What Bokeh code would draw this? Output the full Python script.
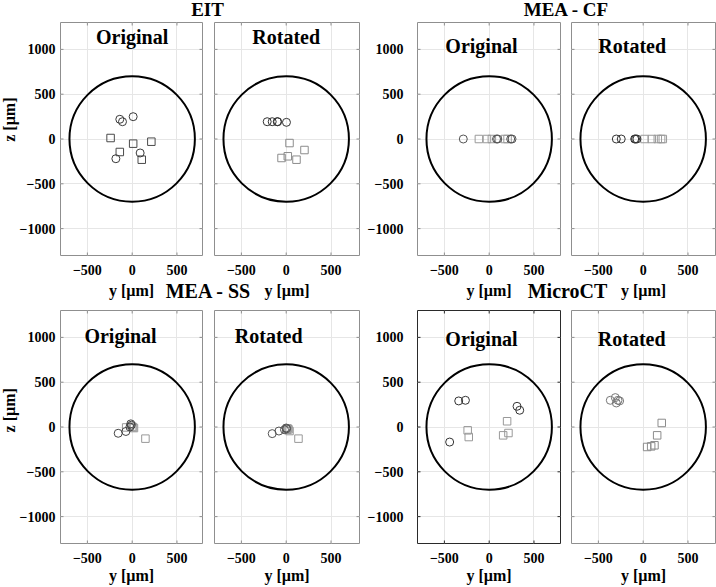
import math
from bokeh.plotting import figure
from bokeh.models import Range1d, FixedTicker, Label, Grid
from bokeh.layouts import column, row
from bokeh.embed import file_html
from bokeh.resources import INLINE

# ---------------- data ----------------
groups = ["EIT", "MEA - CF", "MEA - SS", "MicroCT"]
views = ["Original", "Rotated"]
x_ticks = [-500, 0, 500]
y_ticks = [-1000, -500, 0, 500, 1000]
nerve_radius = 700

# EIT
eit_orig_circ_y = [-138, -108, 11, 89, -182]
eit_orig_circ_z = [220, 193, 249, -156, -220]
eit_orig_sq_y = [-241, 11, 214, -138, 107]
eit_orig_sq_z = [11, -52, -30, -145, -231]
eit_rot_circ_y = [-212, -156, -100, -95, 3]
eit_rot_circ_z = [193, 193, 193, 193, 186]
eit_rot_sq_y = [37, 204, 18, -52, 115]
eit_rot_sq_z = [-45, -123, -193, -212, -231]

# MEA - CF
cf_orig_circ_y = [-289, 82, 96, 240, 255]
cf_orig_circ_z = [0, 0, 0, 0, 0]
cf_orig_sq_y = [-115, -25, 30, 175, 205]
cf_orig_sq_z = [0, 0, 0, 0, 0]
cf_rot_circ_y = [-300, -245, -95, -85, -70]
cf_rot_circ_z = [0, 0, 0, 0, 0]
cf_rot_sq_y = [15, 96, 163, 200, 219]
cf_rot_sq_z = [0, 0, 0, 0, 0]

# MEA - SS
ss_orig_circ_y = [-156, -70, -25, -15, -10]
ss_orig_circ_z = [-70, -50, 0, 35, 20]
ss_orig_sq_y = [-67, 10, 20, 0, 148]
ss_orig_sq_z = [-5, -5, -12, 5, -130]
ss_rot_circ_y = [-156, -81, -19, 0, 5]
ss_rot_circ_z = [-74, -45, -30, -11, -20]
ss_rot_sq_y = [26, 37, 15, 10, 137]
ss_rot_sq_z = [-26, -45, -15, -30, -130]

# MicroCT
ct_orig_circ_y = [-340, -265, 311, 341, -441]
ct_orig_circ_z = [291, 298, 231, 187, -168]
ct_orig_sq_y = [-240, -228, 200, 215, 156]
ct_orig_sq_z = [-37, -112, 64, -67, -93]
ct_rot_circ_y = [-367, -311, -281, -300, -263]
ct_rot_circ_z = [298, 328, 298, 268, 291]
ct_rot_sq_y = [207, 156, 126, 89, 44]
ct_rot_sq_z = [45, -93, -204, -216, -223]

panel_data = {
    ("EIT", "Original"): (eit_orig_circ_y, eit_orig_circ_z, eit_orig_sq_y, eit_orig_sq_z),
    ("EIT", "Rotated"): (eit_rot_circ_y, eit_rot_circ_z, eit_rot_sq_y, eit_rot_sq_z),
    ("MEA - CF", "Original"): (cf_orig_circ_y, cf_orig_circ_z, cf_orig_sq_y, cf_orig_sq_z),
    ("MEA - CF", "Rotated"): (cf_rot_circ_y, cf_rot_circ_z, cf_rot_sq_y, cf_rot_sq_z),
    ("MEA - SS", "Original"): (ss_orig_circ_y, ss_orig_circ_z, ss_orig_sq_y, ss_orig_sq_z),
    ("MEA - SS", "Rotated"): (ss_rot_circ_y, ss_rot_circ_z, ss_rot_sq_y, ss_rot_sq_z),
    ("MicroCT", "Original"): (ct_orig_circ_y, ct_orig_circ_z, ct_orig_sq_y, ct_orig_sq_z),
    ("MicroCT", "Rotated"): (ct_rot_circ_y, ct_rot_circ_z, ct_rot_sq_y, ct_rot_sq_z),
}

# ---------------- style ----------------
FONT = "Liberation Serif"
OUTLINE = "#8f8f8f"
GRID = "#e6e6e6"
Y_MIN, Y_MAX, X_MIN = -1300, 1300, -800

label_pos = {
    ("EIT", "Original"): (0, 1137), ("EIT", "Rotated"): (0, 1137),
    ("MEA - CF", "Original"): (-86, 1035), ("MEA - CF", "Rotated"): (-123, 1035),
    ("MEA - SS", "Original"): (-130, 1011), ("MEA - SS", "Rotated"): (-195, 1011),
    ("MicroCT", "Original"): (-86, 984), ("MicroCT", "Rotated"): (-128, 984),
}
marker_colors = {
    ("EIT", "Original"): ("#3a3a3a", "#4a4a4a"),
    ("EIT", "Rotated"): ("#333333", "#8c8c8c"),
    ("MEA - CF", "Original"): ("#555555", "#9a9a9a"),
    ("MEA - CF", "Rotated"): ("#333333", "#9a9a9a"),
    ("MEA - SS", "Original"): ("#444444", "#999999"),
    ("MEA - SS", "Rotated"): ("#555555", "#999999"),
    ("MicroCT", "Original"): ("#333333", "#999999"),
    ("MicroCT", "Rotated"): ("#777777", "#8c8c8c"),
}

# column geometry: (fig width, border left, border right, x end, y tick labels, label standoff, left margin)
col_geom = [
    (228, 80, 6, 785, True, 5, -40),
    (154, 6, 3, 818, False, 0, 0),
    (224, 75, 6, 796, True, 14, -20),
    (150, 5, 1, 807, False, 0, 0),
]


def style_axis(ax, standoff):
    ax.major_tick_line_color = None
    ax.minor_tick_line_color = None
    ax.major_tick_in = 0
    ax.major_tick_out = 0
    ax.minor_tick_in = 0
    ax.minor_tick_out = 0
    ax.axis_line_color = None
    ax.major_label_text_font = FONT
    ax.major_label_text_font_style = "bold"
    ax.major_label_text_font_size = "14px"
    ax.major_label_text_color = "black"
    ax.major_label_standoff = standoff
    ax.axis_label_text_font = FONT
    ax.axis_label_text_font_style = "bold"
    ax.axis_label_text_font_size = "16px"
    ax.axis_label_text_color = "black"


def make_panel(group, view, ci, height, bt, bb, xlab_standoff, outline):
    w, bl, br, xend, ylab, ystand, mleft = col_geom[ci]
    p = figure(width=w, height=height, x_range=Range1d(X_MIN, xend), y_range=Range1d(Y_MIN, Y_MAX),
               output_backend="svg", toolbar_location=None, title=None,
               min_border_left=bl, min_border_right=br, min_border_top=bt, min_border_bottom=bb,
               x_axis_label="y [µm]", y_axis_location=("left" if ylab else None),
               margin=(0, 0, 0, mleft))
    p.background_fill_color = "white"
    p.border_fill_color = None
    p.outline_line_color = outline
    p.outline_line_width = 1

    for ax in p.xaxis:
        ax.ticker = FixedTicker(ticks=x_ticks)
        style_axis(ax, 9)
        ax.axis_label_standoff = xlab_standoff
    for ax in p.yaxis:
        ax.ticker = FixedTicker(ticks=y_ticks)
        style_axis(ax, ystand)

    p.xgrid.ticker = FixedTicker(ticks=x_ticks)
    p.xgrid.grid_line_color = GRID
    if ylab:
        p.ygrid.ticker = FixedTicker(ticks=y_ticks)
        p.ygrid.grid_line_color = GRID
    else:
        p.add_layout(Grid(dimension=1, ticker=FixedTicker(ticks=y_ticks), grid_line_color=GRID))

    # inward tick marks on all four sides (half of each dash is clipped by the frame)
    n_y, n_x = len(y_ticks), len(x_ticks)
    p.scatter(x=[X_MIN] * n_y + [xend] * n_y, y=y_ticks + y_ticks, marker="dash", size=6,
              line_color=outline, line_width=1)
    p.scatter(x=x_ticks + x_ticks, y=[Y_MIN] * n_x + [Y_MAX] * n_x, marker="dash", size=6,
              angle=math.pi / 2, line_color=outline, line_width=1)

    p.circle(x=[0], y=[0], radius=nerve_radius, fill_color=None, line_color="black", line_width=2)

    cy, cz, sy, sz = panel_data[(group, view)]
    ccol, scol = marker_colors[(group, view)]
    p.scatter(x=sy, y=sz, marker="square", size=7.5, fill_color=None, line_color=scol, line_width=1)
    p.scatter(x=cy, y=cz, marker="circle", size=8, fill_color=None, line_color=ccol, line_width=1)

    lx, ly = label_pos[(group, view)]
    p.add_layout(Label(x=lx, y=ly, text=view, text_font=FONT, text_font_style="bold",
                       text_font_size="20px", text_align="center", text_baseline="alphabetic",
                       text_color="black"))
    return p


def text_band(w, h, texts, margin=(0, 0, 0, 0)):
    b = figure(width=w, height=h, x_range=Range1d(0, w), y_range=Range1d(h, 0),
               output_backend="svg", toolbar_location=None, min_border=0, title=None,
               x_axis_type=None, y_axis_type=None, margin=margin)
    b.grid.visible = False
    b.outline_line_color = None
    b.background_fill_color = None
    b.border_fill_color = None
    for t, x, y, fs, ang, base in texts:
        b.add_layout(Label(x=x, y=y, text=t, text_font=FONT, text_font_style="bold",
                           text_font_size=fs, text_align="center", text_baseline=base,
                           angle=ang, text_color="black"))
    return b


band1 = text_band(716, 20, [(groups[0], 207, 9, "19px", 0, "alphabetic"),
                            (groups[1], 566, 9, "19px", 0, "alphabetic")])
row1 = row(
    text_band(20, 283, [("z [µm]", 9, 118, "16px", math.pi / 2, "middle")]),
    make_panel(groups[0], views[0], 0, 283, 2, 48, 4, OUTLINE),
    make_panel(groups[0], views[1], 1, 283, 2, 48, 4, OUTLINE),
    make_panel(groups[1], views[0], 2, 283, 2, 48, 4, OUTLINE),
    make_panel(groups[1], views[1], 3, 283, 2, 48, 4, OUTLINE),
)
band2 = text_band(716, 30, [(groups[2], 208, 11, "20px", 0, "alphabetic"),
                            (groups[3], 567, 11, "20px", 0, "alphabetic")], (-24, 0, 0, 0))
row2 = row(
    text_band(20, 278, [("z [µm]", 9, 119, "16px", math.pi / 2, "middle")]),
    make_panel(groups[2], views[0], 0, 278, 1, 44, 1, OUTLINE),
    make_panel(groups[2], views[1], 1, 278, 1, 44, 1, OUTLINE),
    make_panel(groups[3], views[0], 2, 278, 1, 44, 1, "#2a2a2a"),
    make_panel(groups[3], views[1], 3, 278, 1, 44, 1, OUTLINE),
)

layout = column(band1, row1, band2, row2)

open("out.html", "w").write(file_html(layout, INLINE))
